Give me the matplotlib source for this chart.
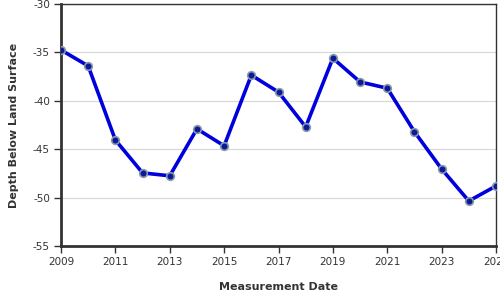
import matplotlib
matplotlib.use("Agg")
import matplotlib.pyplot as plt

plt.rcParams["axes.unicode_minus"] = False

years = [2009, 2010, 2011, 2012, 2013, 2014, 2015, 2016, 2017, 2018, 2019, 2020, 2021, 2022, 2023, 2024, 2025]
depth = [-34.75, -36.4, -44.05, -47.45, -47.75, -42.9, -44.65, -37.35, -39.1, -42.7, -35.6, -38.05, -38.7, -43.2, -47.05, -50.35, -48.8]
x_ticks = [2009, 2011, 2013, 2015, 2017, 2019, 2021, 2023, 2025]
y_ticks = [-55, -50, -45, -40, -35, -30]

fig = plt.figure(figsize=(5, 3), dpi=100)
ax = fig.add_axes([0.122, 0.18, 0.870, 0.8067])

ax.plot(years, depth, color="#0000dd", linewidth=2.6, marker="o", markersize=5.5,
        markerfacecolor="#0a1a9a", markeredgecolor="#8a9aa8", markeredgewidth=1.2,
        solid_joinstyle="round", zorder=3)

ax.set_xlim(2009, 2025)
ax.set_ylim(-55, -30)
ax.set_xticks(x_ticks)
ax.set_yticks(y_ticks)
ax.grid(axis="y", color="#d9d9d9", linewidth=0.9)
ax.set_axisbelow(True)

for side in ["left", "bottom"]:
    ax.spines[side].set_linewidth(2)
    ax.spines[side].set_color("#333333")
for side in ["top", "right"]:
    ax.spines[side].set_linewidth(1)
    ax.spines[side].set_color("#333333")

ax.tick_params(axis="both", direction="out", length=5, width=1, color="#333333",
               labelsize=7.5, labelcolor="#333333", pad=3)

ax.set_xlabel("Measurement Date", fontsize=8, fontweight="bold", color="#333333", labelpad=11)
ax.set_ylabel("Depth Below Land Surface", fontsize=8, fontweight="bold", color="#333333", labelpad=10)

fig.savefig("out.png", dpi=100)
